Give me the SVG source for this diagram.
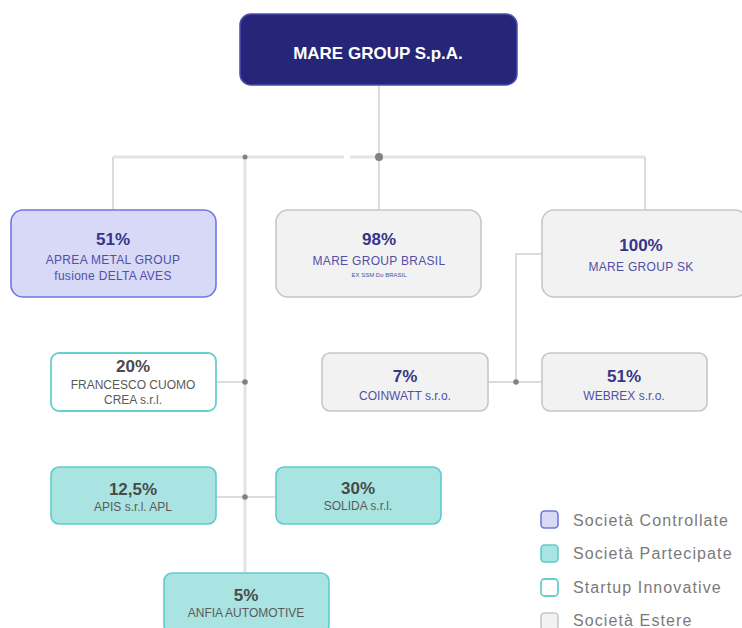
<svg xmlns="http://www.w3.org/2000/svg" width="742" height="628" viewBox="0 0 742 628">
<style>
text{font-family:"Liberation Sans",Arial,sans-serif;text-anchor:middle}
.pct{font-weight:bold;font-size:17px}
.nm{font-size:12px}
.sm{font-size:6px}
.blue .pct{fill:#35358a}
.blue .nm,.blue .sm{fill:#5050a6}
.grey .pct{fill:#4a4a4a}
.grey .nm{fill:#5a5a5a}
.ctrl{fill:#d7d9f6;stroke:#7076e6;stroke-width:1.6}
.est{fill:#f2f2f2;stroke:#c6c6c6;stroke-width:1.6}
.start{fill:#ffffff;stroke:#66d0cf;stroke-width:1.8}
.part{fill:#a9e4e2;stroke:#5dcdcb;stroke-width:1.6}
.main{stroke:#e3e3e3;stroke-width:3;fill:none}
.thin{stroke:#cfcfcf;stroke-width:1.4;fill:none}
.dot{fill:#808088}
.leg{text-anchor:start;font-size:16px;letter-spacing:1.1px;fill:#7a7a7a}
</style>
<g id="connectors">
<line class="thin" x1="379" y1="85" x2="379" y2="157"/>
<line class="main" x1="113" y1="157" x2="344" y2="157"/>
<line class="main" x1="350" y1="157" x2="645" y2="157"/>
<line class="thin" x1="113" y1="157" x2="113" y2="211"/>
<line class="thin" x1="379" y1="157" x2="379" y2="211"/>
<line class="thin" x1="645" y1="157" x2="645" y2="211"/>
<line class="main" x1="245" y1="157" x2="245" y2="573"/>
<polyline class="thin" points="542,254 516,254 516,382"/>
<line class="thin" x1="488" y1="382" x2="542" y2="382"/>
<line class="thin" x1="216" y1="382" x2="245" y2="382"/>
<line class="thin" x1="216" y1="497" x2="276" y2="497"/>
<circle class="dot" cx="379" cy="157" r="4"/>
<circle class="dot" cx="245" cy="157" r="2.5"/>
<circle class="dot" cx="516" cy="382" r="2.8"/>
<circle class="dot" cx="245" cy="382" r="2.8"/>
<circle class="dot" cx="245" cy="497" r="2.8"/>
</g>
<g id="mare-group">
<rect x="240" y="14" width="277" height="71" rx="11" fill="#262679" stroke="#4c4cac" stroke-width="1.5"/>
<text x="378" y="59" font-size="17" font-weight="bold" fill="#ffffff">MARE GROUP S.p.A.</text>
</g>
<g id="aprea" class="blue">
<rect class="ctrl" x="11" y="210" width="205" height="87" rx="12"/>
<text class="pct" x="113" y="245">51%</text>
<text class="nm" x="113" y="264" letter-spacing="0.3">APREA METAL GROUP</text>
<text class="nm" x="113" y="280" letter-spacing="0.3">fusione DELTA AVES</text>
</g>
<g id="brasil" class="blue">
<rect class="est" x="276" y="210" width="205" height="87" rx="12"/>
<text class="pct" x="379" y="245">98%</text>
<text class="nm" x="379" y="265" letter-spacing="0.3">MARE GROUP BRASIL</text>
<text class="sm" x="379" y="277">EX SSM Do BRASIL</text>
</g>
<g id="sk" class="blue">
<rect class="est" x="542" y="210" width="205" height="87" rx="12"/>
<text class="pct" x="641" y="251">100%</text>
<text class="nm" x="641" y="271" letter-spacing="0.3">MARE GROUP SK</text>
</g>
<g id="francesco" class="grey">
<rect class="start" x="51" y="353" width="165" height="58" rx="8"/>
<text class="pct" x="133" y="372" font-size="15">20%</text>
<text class="nm" x="133" y="389">FRANCESCO CUOMO</text>
<text class="nm" x="133" y="404">CREA s.r.l.</text>
</g>
<g id="coinwatt" class="blue">
<rect class="est" x="322" y="353" width="166" height="58" rx="8"/>
<text class="pct" x="405" y="382">7%</text>
<text class="nm" x="405" y="400">COINWATT s.r.o.</text>
</g>
<g id="webrex" class="blue">
<rect class="est" x="542" y="353" width="165" height="58" rx="8"/>
<text class="pct" x="624" y="382">51%</text>
<text class="nm" x="624" y="400">WEBREX s.r.o.</text>
</g>
<g id="apis" class="grey">
<rect class="part" x="51" y="467" width="165" height="57" rx="8"/>
<text class="pct" x="133" y="495" font-size="15">12,5%</text>
<text class="nm" x="133" y="511">APIS s.r.l. APL</text>
</g>
<g id="solida" class="grey">
<rect class="part" x="276" y="467" width="165" height="57" rx="8"/>
<text class="pct" x="358" y="494" font-size="15">30%</text>
<text class="nm" x="358" y="510">SOLIDA s.r.l.</text>
</g>
<g id="anfia" class="grey">
<rect class="part" x="164" y="573" width="165" height="60" rx="8"/>
<text class="pct" x="246" y="601" font-size="15">5%</text>
<text class="nm" x="246" y="617">ANFIA AUTOMOTIVE</text>
</g>
<g id="legend">
<rect class="ctrl" x="541" y="511" width="17" height="17" rx="3.5"/>
<text class="leg" x="573" y="526">Società Controllate</text>
<rect class="part" x="541" y="545" width="17" height="17" rx="3.5"/>
<text class="leg" x="573" y="559">Società Partecipate</text>
<rect class="start" x="541" y="579" width="17" height="17" rx="3.5"/>
<text class="leg" x="573" y="593">Startup Innovative</text>
<rect class="est" x="541" y="613" width="17" height="17" rx="3.5"/>
<text class="leg" x="573" y="626">Società Estere</text>
</g>
</svg>
